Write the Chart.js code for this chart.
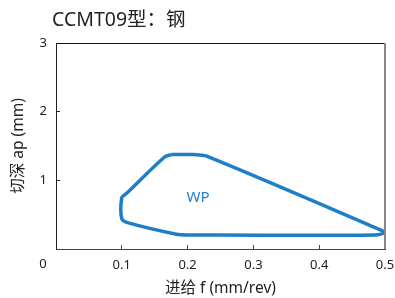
<!DOCTYPE html>
<html>
<head>
<meta charset="utf-8">
<script src="https://cdn.jsdelivr.net/npm/chart.js@4.4.0/dist/chart.umd.min.js"></script>
<style>
	html, body { margin: 0; padding: 0; background: #fff; }
	#wrap { width: 395px; height: 298px; }
</style>
</head>
<body>
<div id="wrap"><canvas id="graficaWP"></canvas></div>
<script>
// contorno de la zona WP (f en mm/rev, ap en mm)
const feedValues = [0.175, 0.21, 0.228, 0.49, 0.5, 0.485, 0.2, 0.183, 0.11, 0.1, 0.1, 0.106, 0.165, 0.175];
const depthValues = [1.375, 1.375, 1.355, 0.29, 0.24, 0.205, 0.205, 0.215, 0.38, 0.44, 0.75, 0.8, 1.34, 1.375];
const xTicks = [0, 0.1, 0.2, 0.3, 0.4, 0.5];
const yTicks = [0, 1, 2, 3];
const areaLabel = 'WP';
const chartTitle = 'CCMT09型：钢';
const xTitle = '进给 f (mm/rev)';
const yTitle = '切深 ap (mm)';

const azul = '#1f7fc6';
const fuente = "'Noto Sans', 'Noto Sans CJK SC', sans-serif";

let puntos = new Array();
for (let i = 0; i < feedValues.length; i++) {
	puntos.push({ x: feedValues[i], y: depthValues[i] });
}

// titulo, marco superior/derecho, etiqueta WP y el "0" de la esquina
const extras = {
	id: 'extras',
	afterDraw(chart) {
		const ctx = chart.ctx;
		const a = chart.chartArea;
		const sx = chart.scales.x;
		const sy = chart.scales.y;
		ctx.save();
		ctx.strokeStyle = '#111';
		ctx.lineWidth = 1;
		ctx.beginPath();
		ctx.moveTo(a.left, a.top + 0.5);
		ctx.lineTo(a.right, a.top + 0.5);
		ctx.stroke();
		ctx.strokeStyle = '#888';
		ctx.lineWidth = 2;
		ctx.beginPath();
		ctx.moveTo(a.right, a.top);
		ctx.lineTo(a.right, a.bottom);
		ctx.stroke();

		ctx.fillStyle = '#222';
		ctx.font = '19.5px ' + fuente;
		ctx.textAlign = 'left';
		ctx.textBaseline = 'middle';
		ctx.fillText(chartTitle, 52, 20);

		ctx.font = '13px ' + fuente;
		ctx.textAlign = 'center';
		ctx.fillText('0', a.left - 13, a.bottom + 15);

		ctx.fillStyle = azul;
		ctx.font = '15px ' + fuente;
		ctx.fillText(areaLabel, sx.getPixelForValue(0.216), sy.getPixelForValue(0.74));
		ctx.restore();
	}
};

new Chart(document.getElementById('graficaWP'), {
	type: 'scatter',
	data: {
		datasets: [{
			data: puntos,
			showLine: true,
			borderColor: azul,
			borderWidth: 3.5,
			pointRadius: 0,
			tension: 0.3,
			fill: false
		}]
	},
	options: {
		responsive: true,
		maintainAspectRatio: false,
		animation: false,
		layout: { padding: { top: 43, right: 10, left: 0, bottom: 0 } },
		plugins: { legend: { display: false }, tooltip: { enabled: false } },
		scales: {
			x: {
				type: 'linear',
				min: 0,
				max: 0.5,
				afterBuildTicks: (s) => { s.ticks = xTicks.map(v => ({ value: v })); },
				afterFit: (s) => { s.height = 49; s.paddingRight = 0; s.paddingLeft = 0; },
				ticks: {
					padding: 12,
					color: '#222',
					font: { family: fuente, size: 13 },
					callback: (v) => v === 0 ? '' : v.toFixed(1)
				},
				grid: { drawOnChartArea: false, drawTicks: true, tickLength: -4, color: '#444' },
				border: { display: true, color: '#444', width: 1 },
				title: {
					display: true,
					text: xTitle,
					color: '#222',
					font: { family: fuente, size: 15.5 },
					padding: { top: 7, bottom: 0 }
				}
			},
			y: {
				type: 'linear',
				min: 0,
				max: 3,
				afterBuildTicks: (s) => { s.ticks = yTicks.map(v => ({ value: v })); },
				afterFit: (s) => { s.width = 56; s.paddingTop = 0; s.paddingBottom = 0; },
				ticks: {
					padding: 13,
					color: '#222',
					font: { family: fuente, size: 13 },
					callback: (v) => v === 0 ? '' : String(v)
				},
				grid: { drawOnChartArea: false, drawTicks: true, tickLength: -4, color: '#222' },
				border: { display: true, color: '#222', width: 1 },
				title: {
					display: true,
					text: yTitle,
					color: '#222',
					font: { family: fuente, size: 15.5 },
					padding: { top: 9, bottom: 4 }
				}
			}
		}
	},
	plugins: [extras]
});
</script>
</body>
</html>
